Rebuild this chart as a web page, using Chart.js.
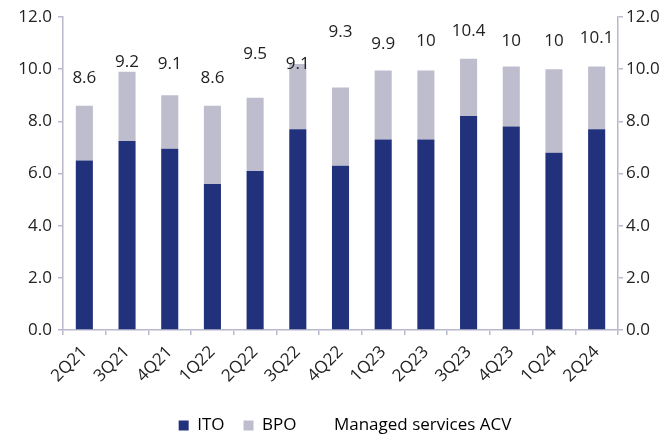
<!DOCTYPE html>
<html><head><meta charset="utf-8">
<script src="https://cdn.jsdelivr.net/npm/chart.js@4.4.1/dist/chart.umd.min.js"></script>
<style>html,body{margin:0;padding:0;background:#fff;}#wrap{width:672px;height:435px;}</style>
</head><body><div id="wrap"><canvas id="c" width="672" height="435"></canvas></div>
<script>
const categories = ['2Q21','3Q21','4Q21','1Q22','2Q22','3Q22','4Q22','1Q23','2Q23','3Q23','4Q23','1Q24','2Q24'];
const itoValues = [6.5, 7.25, 6.95, 5.6, 6.1, 7.7, 6.3, 7.3, 7.3, 8.2, 7.8, 6.8, 7.7];
const bpoValues = [2.1, 2.65, 2.05, 3.0, 2.8, 2.5, 3.0, 2.65, 2.65, 2.2, 2.3, 3.2, 2.4];
const acvValues = [8.6, 9.2, 9.1, 8.6, 9.5, 9.1, 9.3, 9.9, 10, 10.4, 10, 10, 10.1];
const yTickMin = 0, yTickMax = 12, yTickStep = 2;

const FONT = {family: "'Open Sans', sans-serif", size: 17};
const TEXT = '#222222';
const AXIS = '#b9b8cc';
const ITO_COLOR = '#21317c';
const BPO_COLOR = '#bebdcd';

const acvLabels = {
  id: 'acvLabels',
  afterLayout(chart, args, opts) {
    if (chart.legend) { chart.legend.left += opts.legendShift; chart.legend.right += opts.legendShift; }
  },
  afterDatasetsDraw(chart, args, opts) {
    const ctx = chart.ctx;
    const ds = chart.data.datasets[2];
    const meta = chart.getDatasetMeta(2);
    const y = chart.scales.y;
    ctx.save();
    ctx.font = `${FONT.size}px ${FONT.family}`;
    ctx.fillStyle = TEXT;
    ctx.textAlign = 'center';
    ctx.textBaseline = 'middle';
    ds.data.forEach((v, i) => {
      const lift = opts.lift + (opts.extra[i] || 0);
      ctx.fillText(String(v), meta.data[i].x, y.getPixelForValue(v) - lift);
    });
    ctx.restore();
  }
};

const tickGrid = {drawOnChartArea: false, drawTicks: true, tickLength: 5, color: AXIS, lineWidth: 1.5};

new Chart(document.getElementById('c'), {
  data: {
    labels: categories,
    datasets: [
      {type: 'bar', label: 'ITO', data: itoValues, backgroundColor: ITO_COLOR, stack: 'acv', barPercentage: 0.4, categoryPercentage: 1, yAxisID: 'y'},
      {type: 'bar', label: 'BPO', data: bpoValues, backgroundColor: BPO_COLOR, stack: 'acv', barPercentage: 0.4, categoryPercentage: 1, yAxisID: 'y'},
      {type: 'line', label: 'Managed services ACV', data: acvValues, stack: 'line', showLine: false, pointRadius: 0, borderColor: 'rgba(0,0,0,0)', backgroundColor: 'rgba(0,0,0,0)', yAxisID: 'y'}
    ]
  },
  options: {
    responsive: false,
    animation: false,
    devicePixelRatio: 1,
    layout: {padding: {top: 17, bottom: -9, left: 0, right: 0}},
    plugins: {
      tooltip: {enabled: false},
      acvLabels: {lift: 28, extra: {6: 27}, legendShift: 9},
      legend: {
        position: 'bottom',
        labels: {
          boxWidth: 10, boxHeight: 10, padding: 19, font: FONT, color: TEXT,
          generateLabels(chart) {
            return chart.data.datasets.map((d, i) => ({
              text: d.label,
              fillStyle: i === 2 ? 'rgba(0,0,0,0)' : d.backgroundColor,
              strokeStyle: 'rgba(0,0,0,0)',
              lineWidth: 0,
              datasetIndex: i,
              hidden: false
            }));
          }
        }
      }
    },
    scales: {
      x: {
        stacked: true,
        grid: Object.assign({offset: true}, tickGrid),
        border: {color: AXIS, width: 1.5},
        ticks: {minRotation: 45, maxRotation: 45, font: FONT, color: TEXT, padding: 7},
        afterFit(s) { s.height = 68; }
      },
      y: {
        stacked: true, position: 'left', min: yTickMin, max: yTickMax,
        ticks: {stepSize: yTickStep, font: FONT, color: TEXT, padding: 6, callback: v => v.toFixed(1)},
        grid: tickGrid, border: {color: AXIS, width: 1.5},
        afterFit(s) { s.width = 63; }
      },
      y2: {
        position: 'right', min: yTickMin, max: yTickMax,
        ticks: {stepSize: yTickStep, font: FONT, color: TEXT, padding: 3, callback: v => v.toFixed(1)},
        grid: tickGrid, border: {color: AXIS, width: 1.5},
        afterFit(s) { s.width = 54; }
      }
    }
  },
  plugins: [acvLabels]
});
</script></body></html>
